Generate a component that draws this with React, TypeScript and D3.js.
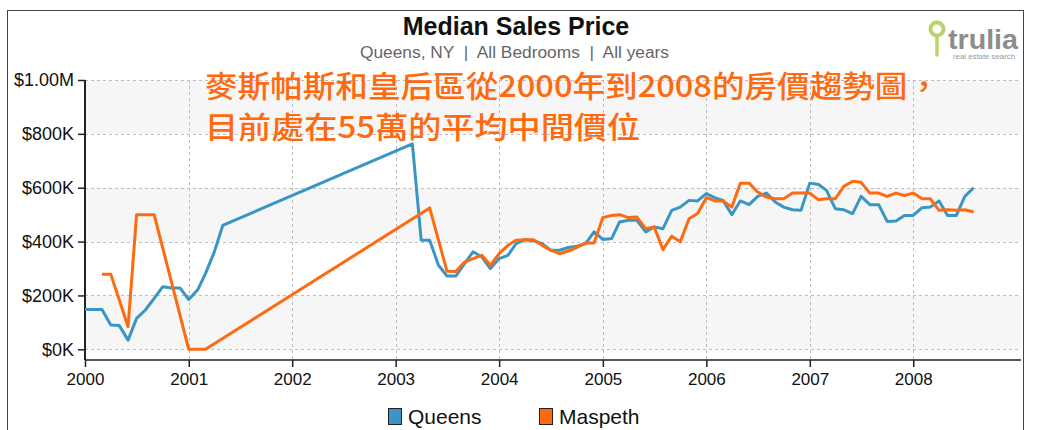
import React, { useRef, useEffect } from 'react';
import * as d3 from 'd3';

// monthly median sales price, in $K
const queens: [string, number][] = [
  ["2000-01", 148], ["2000-02", 148], ["2000-03", 148], ["2000-04", 90], ["2000-05", 88],
  ["2000-06", 34], ["2000-07", 115], ["2000-08", 146], ["2000-09", 189], ["2000-10", 232],
  ["2000-11", 228], ["2000-12", 228], ["2001-01", 185], ["2001-02", 220], ["2001-03", 281],
  ["2001-04", 361], ["2001-05", 460],
  ["2003-03", 763], ["2003-04", 405], ["2003-05", 405], ["2003-06", 312], ["2003-07", 272],
  ["2003-08", 272], ["2003-09", 318], ["2003-10", 362], ["2003-11", 343], ["2003-12", 300],
  ["2004-01", 337], ["2004-02", 349], ["2004-03", 392], ["2004-04", 407], ["2004-05", 403],
  ["2004-06", 392], ["2004-07", 368], ["2004-08", 368], ["2004-09", 378], ["2004-10", 383],
  ["2004-11", 392], ["2004-12", 436], ["2005-01", 408], ["2005-02", 411], ["2005-03", 473],
  ["2005-04", 479], ["2005-05", 479], ["2005-06", 436], ["2005-07", 454], ["2005-08", 448],
  ["2005-09", 516], ["2005-10", 528], ["2005-11", 553], ["2005-12", 551], ["2006-01", 578],
  ["2006-02", 562], ["2006-03", 553], ["2006-04", 500], ["2006-05", 551], ["2006-06", 537],
  ["2006-07", 568], ["2006-08", 580], ["2006-09", 547], ["2006-10", 528], ["2006-11", 518],
  ["2006-12", 516], ["2007-01", 617], ["2007-02", 612], ["2007-03", 590], ["2007-04", 522],
  ["2007-05", 518], ["2007-06", 504], ["2007-07", 568], ["2007-08", 537], ["2007-09", 537],
  ["2007-10", 475], ["2007-11", 476], ["2007-12", 497], ["2008-01", 497], ["2008-02", 526],
  ["2008-03", 528], ["2008-04", 551], ["2008-05", 497], ["2008-06", 497], ["2008-07", 568],
  ["2008-08", 600],
];

const maspeth: [string, number][] = [
  ["2000-03", 279], ["2000-04", 279], ["2000-06", 84], ["2000-07", 500], ["2000-08", 500],
  ["2000-09", 500], ["2001-01", 0], ["2001-02", 0], ["2001-03", 0],
  ["2003-05", 525], ["2003-07", 290], ["2003-08", 289], ["2003-09", 324], ["2003-10", 337],
  ["2003-11", 349], ["2003-12", 312], ["2004-01", 355], ["2004-02", 386], ["2004-03", 405],
  ["2004-04", 407], ["2004-05", 407], ["2004-06", 386], ["2004-07", 368], ["2004-08", 355],
  ["2004-09", 365], ["2004-10", 378], ["2004-11", 395], ["2004-12", 395], ["2005-01", 489],
  ["2005-02", 497], ["2005-03", 500], ["2005-04", 489], ["2005-05", 491], ["2005-06", 448],
  ["2005-07", 454], ["2005-08", 370], ["2005-09", 420], ["2005-10", 399], ["2005-11", 485],
  ["2005-12", 504], ["2006-01", 563], ["2006-02", 551], ["2006-03", 551], ["2006-04", 528],
  ["2006-05", 617], ["2006-06", 617], ["2006-07", 584], ["2006-08", 565], ["2006-09", 559],
  ["2006-10", 559], ["2006-11", 580], ["2006-12", 580], ["2007-01", 580], ["2007-02", 555],
  ["2007-03", 559], ["2007-04", 559], ["2007-05", 605], ["2007-06", 624], ["2007-07", 620],
  ["2007-08", 580], ["2007-09", 580], ["2007-10", 568], ["2007-11", 580], ["2007-12", 571],
  ["2008-01", 580], ["2008-02", 559], ["2008-03", 559], ["2008-04", 516], ["2008-05", 518],
  ["2008-06", 516], ["2008-07", 518], ["2008-08", 510],
];

const years = [2000, 2001, 2002, 2003, 2004, 2005, 2006, 2007, 2008];
const yTickValues = [0, 200, 400, 600, 800, 1000];
const yTickLabels = ["$0K", "$200K", "$400K", "$600K", "$800K", "$1.00M"];
const seriesNames = ["Queens", "Maspeth"];
const annotation = ["麥斯帕斯和皇后區從2000年到2008的房價趨勢圖，", "目前處在55萬的平均中間價位"];

const BLUE = "#3a95c5";
const ORANGE = "#ff6a10";

const App: React.FC = () => {
  const svgRef = useRef<SVGSVGElement | null>(null);

  useEffect(() => {
    const width = 1038;
    const height = 430;
    const svg = d3.select(svgRef.current);
    svg.selectAll("*").remove();
    svg.attr("width", width).attr("height", height);

    const parse = d3.timeParse("%Y-%m");
    const left = 85, right = 1021, top = 80, axisY = 360;

    const x = d3.scaleTime()
      .domain([new Date(2000, 0, 1), new Date(2009, 0, 1)])
      .range([left, 1017]);
    const y = d3.scaleLinear().domain([0, 1000]).range([349.3, top]);

    // frame
    svg.append("rect")
      .attr("x", 7.5).attr("y", 10.5)
      .attr("width", 1016).attr("height", 430)
      .attr("fill", "#fff").attr("stroke", "#444");

    // alternating bands
    const bands = [[800, 1000], [400, 600], [0, 200]];
    svg.append("g").selectAll("rect")
      .data(bands)
      .join("rect")
      .attr("x", left).attr("width", right - left)
      .attr("y", d => y(d[1]))
      .attr("height", d => y(d[0]) - y(d[1]))
      .attr("fill", "#f6f6f6");

    // grid
    const grid = svg.append("g")
      .attr("stroke", "#bdbdbd").attr("stroke-dasharray", "3,3").attr("stroke-width", 1);
    yTickValues.forEach(v => {
      grid.append("line").attr("x1", left).attr("x2", right)
        .attr("y1", Math.round(y(v)) + 0.5).attr("y2", Math.round(y(v)) + 0.5);
    });
    years.forEach(yr => {
      const px = Math.round(x(new Date(yr, 0, 1))) + 0.5;
      grid.append("line").attr("x1", px).attr("x2", px).attr("y1", top).attr("y2", axisY);
    });

    // y axis
    const yAxis = svg.append("g")
      .attr("transform", `translate(${left},0)`)
      .call(d3.axisLeft(y).tickValues(yTickValues)
        .tickFormat((d, i) => yTickLabels[i]).tickSize(7).tickPadding(4));
    yAxis.select(".domain").remove();
    yAxis.selectAll("line").attr("stroke", "#222").attr("stroke-width", 1.5);
    yAxis.selectAll("text")
      .attr("font-family", "Liberation Sans, Arial, sans-serif")
      .attr("font-size", 18).attr("fill", "#111");

    // x axis
    const xAxis = svg.append("g")
      .attr("transform", `translate(0,${axisY})`)
      .call(d3.axisBottom(x).tickValues(years.map(yr => new Date(yr, 0, 1)))
        .tickFormat(d3.timeFormat("%Y") as any).tickSize(7).tickPadding(6));
    xAxis.select(".domain").remove();
    xAxis.selectAll("line").attr("stroke", "#222").attr("stroke-width", 1.5);
    xAxis.selectAll("text")
      .attr("font-family", "Liberation Sans, Arial, sans-serif")
      .attr("font-size", 17).attr("fill", "#111");

    svg.append("line").attr("x1", left).attr("x2", left).attr("y1", top).attr("y2", axisY)
      .attr("stroke", "#222").attr("stroke-width", 2);
    svg.append("line").attr("x1", left).attr("x2", right).attr("y1", axisY).attr("y2", axisY)
      .attr("stroke", "#222").attr("stroke-width", 1.5);

    // lines
    const line = d3.line<[string, number]>()
      .x(d => x(parse(d[0])!))
      .y(d => y(d[1]));
    [[queens, BLUE], [maspeth, ORANGE]].forEach(([data, color]) => {
      svg.append("path")
        .datum(data as [string, number][])
        .attr("d", line)
        .attr("fill", "none")
        .attr("stroke", color as string)
        .attr("stroke-width", 3)
        .attr("stroke-linejoin", "round");
    });

    // title
    svg.append("text")
      .attr("x", 516).attr("y", 35)
      .attr("text-anchor", "middle")
      .attr("font-family", "Liberation Sans, Arial, sans-serif")
      .attr("font-weight", "bold").attr("font-size", 25).attr("fill", "#111")
      .text("Median Sales Price");
    svg.append("text")
      .attr("x", 360).attr("y", 58)
      .attr("font-family", "Liberation Sans, Arial, sans-serif")
      .attr("font-size", 16).attr("fill", "#666")
      .attr("textLength", 309).attr("lengthAdjust", "spacingAndGlyphs")
      .style("white-space", "pre")
      .text("Queens, NY  |  All Bedrooms  |  All years");

    // trulia logo
    const logo = svg.append("g");
    logo.append("circle").attr("cx", 937).attr("cy", 29).attr("r", 6.5)
      .attr("fill", "none").attr("stroke", "#b7d36a").attr("stroke-width", 4);
    logo.append("path").attr("d", "M937,36 L937,55")
      .attr("stroke", "#b7d36a").attr("stroke-width", 3.5).attr("stroke-linecap", "round");
    logo.append("text").attr("x", 948).attr("y", 49)
      .attr("font-family", "Liberation Sans, Arial, sans-serif")
      .attr("font-weight", "bold").attr("font-size", 28).attr("fill", "#8c8c8c")
      .attr("textLength", 70).attr("lengthAdjust", "spacingAndGlyphs")
      .text("trulia");
    logo.append("text").attr("x", 953).attr("y", 59)
      .attr("font-family", "Liberation Sans, Arial, sans-serif")
      .attr("font-size", 6.5).attr("fill", "#999")
      .attr("textLength", 62).attr("lengthAdjust", "spacingAndGlyphs")
      .text("real estate search");

    // annotation
    const ann = svg.append("g")
      .attr("font-family", "Noto Sans CJK TC, sans-serif")
      .attr("font-weight", 500).attr("font-size", 30).attr("fill", ORANGE);
    ann.append("text").attr("x", 205).attr("y", 97)
      .attr("textLength", 735).attr("lengthAdjust", "spacingAndGlyphs").text(annotation[0]);
    ann.append("text").attr("x", 205).attr("y", 138)
      .attr("textLength", 435).attr("lengthAdjust", "spacingAndGlyphs").text(annotation[1]);

    // legend
    const legend = svg.append("g").attr("font-family", "Liberation Sans, Arial, sans-serif");
    const legendX = [388, 539];
    seriesNames.forEach((name, i) => {
      const g = legend.append("g").attr("transform", `translate(${legendX[i]},408)`);
      g.append("rect").attr("x", 0.5).attr("y", 0.5).attr("width", 13).attr("height", 16)
        .attr("fill", i === 0 ? BLUE : ORANGE).attr("stroke", "#222");
      g.append("text").attr("x", 20).attr("y", 16)
        .attr("font-size", 21).attr("fill", "#111").text(name);
    });
  }, []);

  return (
    <div style={{ position: "absolute", left: 0, top: 0 }}>
      <svg ref={svgRef}></svg>
    </div>
  );
};

export default App;
